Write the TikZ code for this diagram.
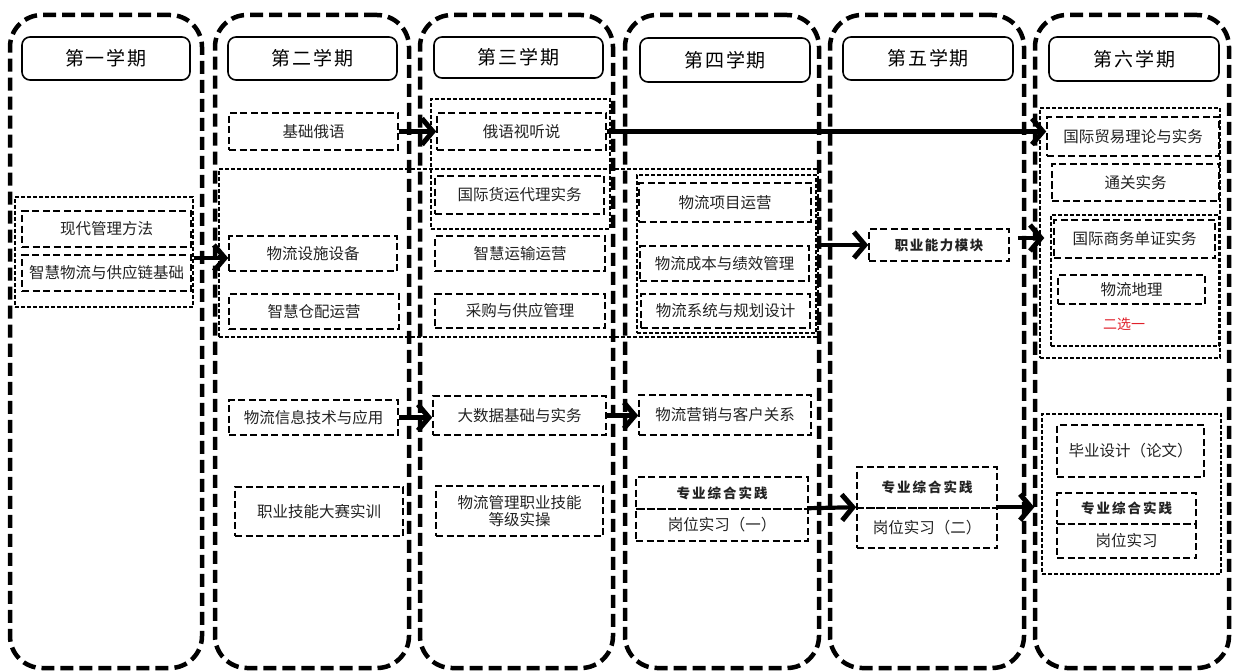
\documentclass[tikz,border=0pt]{standalone}
\usepackage{fontspec}
\setmainfont{Noto Sans CJK SC}
\usetikzlibrary{arrows.meta,calc}
\definecolor{txt}{HTML}{222222}
\definecolor{selred}{HTML}{E0202A}
\begin{document}
\begin{tikzpicture}[x=1pt,y=-1pt,
 colbox/.style={draw, line width=4.5pt, dash pattern=on 13pt off 6pt, rounded corners=32pt, inner sep=0pt},
 headbox/.style={draw, line width=1.6pt, rounded corners=8pt, inner sep=0pt, font=\fontsize{19}{22}\selectfont},
 course/.style={draw, line width=1.6pt, dash pattern=on 7pt off 3.5pt, inner sep=0pt, font=\fontsize{15.5}{19}\selectfont, text=txt, align=center},
 grp/.style={draw, line width=1.4pt, dash pattern=on 4pt off 2pt, inner sep=0pt},
 boldlab/.style={font=\fontsize{13.5}{16}\selectfont\bfseries},
 arr/.style={line width=4.2pt, -{Straight Barb[length=11pt,width=26pt,line width=5pt]}},
]
\useasboundingbox (0,0) rectangle (1233,671);
% columns
\node[colbox, minimum width=192pt, minimum height=653pt] (c1) at (106,341.5) {};
\node[colbox, minimum width=194pt, minimum height=653pt] (c2) at (312,341.5) {};
\node[colbox, minimum width=193pt, minimum height=653pt] (c3) at (516.5,341.5) {};
\node[colbox, minimum width=194pt, minimum height=653pt] (c4) at (722,341.5) {};
\node[colbox, minimum width=194pt, minimum height=653pt] (c5) at (927,341.5) {};
\node[colbox, minimum width=194pt, minimum height=653pt] (c6) at (1132,341.5) {};
% headers
\node[headbox, minimum width=168pt, minimum height=43pt] (h1) at (106,58.5) {第\hspace{2pt}一\hspace{2pt}学\hspace{2pt}期};
\node[headbox, minimum width=169pt, minimum height=43pt] (h2) at (312.5,58.5) {第\hspace{2pt}二\hspace{2pt}学\hspace{2pt}期};
\node[headbox, minimum width=169pt, minimum height=41pt] (h3) at (518.5,57.5) {第\hspace{2pt}三\hspace{2pt}学\hspace{2pt}期};
\node[headbox, minimum width=170pt, minimum height=44pt] (h4) at (725,60) {第\hspace{2pt}四\hspace{2pt}学\hspace{2pt}期};
\node[headbox, minimum width=170pt, minimum height=43pt] (h5) at (928,58.5) {第\hspace{2pt}五\hspace{2pt}学\hspace{2pt}期};
\node[headbox, minimum width=170pt, minimum height=44pt] (h6) at (1134,59) {第\hspace{2pt}六\hspace{2pt}学\hspace{2pt}期};
% groups
\node[grp, minimum width=178pt, minimum height=110pt] (g1) at (104,252) {};
\node[grp, minimum width=599pt, minimum height=168pt] (G) at (518.5,253) {};
\node[grp, minimum width=179pt, minimum height=130pt] (g3) at (520.5,164) {};
\node[grp, minimum width=179pt, minimum height=158pt] (g4) at (726.5,254) {};
\node[grp, minimum width=180pt, minimum height=250pt] (g6a) at (1130,233) {};
\node[grp, minimum width=168pt, minimum height=131pt] (g6b) at (1135,280.5) {};
\node[grp, minimum width=179pt, minimum height=160pt] (g6c) at (1131.5,494) {};
% column 1
\node[course, minimum width=169pt, minimum height=36pt] (n11) at (106.5,229) {现代管理方法};
\node[course, minimum width=169pt, minimum height=36pt] (n12) at (106.5,273) {智慧物流与供应链基础};
% column 2
\node[course, minimum width=169pt, minimum height=37pt] (n21) at (313.5,131.5) {基础俄语};
\node[course, minimum width=168pt, minimum height=35pt] (n22) at (313,253.5) {物流设施设备};
\node[course, minimum width=170pt, minimum height=35pt] (n23) at (314,311.5) {智慧仓配运营};
\node[course, minimum width=169pt, minimum height=35pt] (n24) at (313.5,417.5) {物流信息技术与应用};
\node[course, minimum width=168pt, minimum height=49pt] (n25) at (319,511.5) {职业技能大赛实训};
% column 3
\node[course, minimum width=169pt, minimum height=37pt] (n31) at (521.5,131.5) {俄语视听说};
\node[course, minimum width=169pt, minimum height=38pt] (n32) at (519.5,195) {国际货运代理实务};
\node[course, minimum width=170pt, minimum height=35pt] (n33) at (520,253.5) {智慧运输运营};
\node[course, minimum width=170pt, minimum height=34pt] (n34) at (520,311) {采购与供应管理};
\node[course, minimum width=173pt, minimum height=39pt] (n35) at (519.5,415.5) {大数据基础与实务};
\node[course, minimum width=167pt, minimum height=50pt] (n36) at (519.5,511) {物流管理职业技能\\[-2pt]等级实操};
% column 4
\node[course, minimum width=172pt, minimum height=39pt] (n41) at (725,202.5) {物流项目运营};
\node[course, minimum width=169pt, minimum height=35pt] (n42) at (724.5,263.5) {物流成本与绩效管理};
\node[course, minimum width=169pt, minimum height=34pt] (n43) at (725.5,311) {物流系统与规划设计};
\node[course, minimum width=172pt, minimum height=40pt] (n44) at (725,415) {物流营销与客户关系};
\node[course, boldlab, minimum width=172pt, minimum height=32pt] (n45a) at (722,493) {专\hspace{2pt}业\hspace{2pt}综\hspace{2pt}合\hspace{2pt}实\hspace{2pt}践};
\node[course, minimum width=172pt, minimum height=32pt] (n45b) at (722,525) {岗位实习（一）};
% column 5
\node[course, boldlab, minimum width=140pt, minimum height=32pt] (n51) at (939,245) {职\hspace{1.5pt}业\hspace{1.5pt}能\hspace{1.5pt}力\hspace{1.5pt}模\hspace{1.5pt}块};
\node[course, boldlab, minimum width=140pt, minimum height=41pt] (n52a) at (927,487.5) {专\hspace{2pt}业\hspace{2pt}综\hspace{2pt}合\hspace{2pt}实\hspace{2pt}践};
\node[course, minimum width=140pt, minimum height=40pt] (n52b) at (927,528) {岗位实习（二）};
% column 6
\node[course, minimum width=172pt, minimum height=39pt] (n61) at (1133,136.5) {国际贸易理论与实务};
\node[course, minimum width=167pt, minimum height=37pt] (n62) at (1135.5,182.5) {通关实务};
\node[course, minimum width=161pt, minimum height=38pt] (n63) at (1134.5,239) {国际商务单证实务};
\node[course, minimum width=147pt, minimum height=29pt] (n64) at (1131.5,289.5) {物流地理};
\node[text=selred, font=\fontsize{14}{16}\selectfont, inner sep=0pt] (sel) at (1124,324) {二选一};
\node[course, minimum width=147pt, minimum height=52pt] (n65) at (1130.5,451) {毕业设计（论文）};
\node[course, boldlab, minimum width=139pt, minimum height=31pt] (n66a) at (1126.5,508.5) {专\hspace{2pt}业\hspace{2pt}综\hspace{2pt}合\hspace{2pt}实\hspace{2pt}践};
\node[course, minimum width=139pt, minimum height=34pt] (n66b) at (1126.5,541) {岗位实习};
% arrows
\draw[arr] (g1.east |- 0,258) -- (n22.west |- 0,258);
\draw[arr] (n21.east) -- (n31.west);
\draw[arr] (n31.east) -- (n61.west |- n31.east);
\draw[arr] (G.east |- n51.west) -- (n51.west);
\draw[arr] ([shift={(8,-7)}]n51.east) -- ([xshift=-6pt]g6b.west |- 0,238);
\draw[arr] (n24.east) -- (n35.west |- n24.east);
\draw[arr] (n35.east) -- (n44.west |- n35.east);
\draw[arr] (n45b.north east) -- (n52b.north west);
\draw[arr] (n52b.north east) -- ([xshift=-7pt]g6c.west |- n52b.north east);
\end{tikzpicture}
\end{document}
